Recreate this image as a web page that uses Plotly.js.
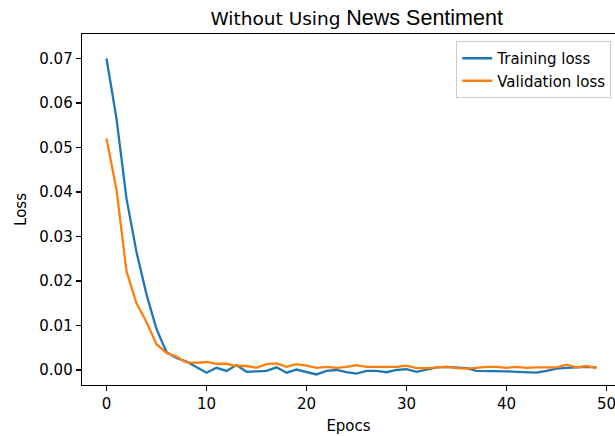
<!DOCTYPE html>
<html>
<head>
<meta charset="utf-8">
<script src="https://cdn.plot.ly/plotly-3.0.1.min.js"></script>
<style>html,body{margin:0;padding:0;background:#fff;}#chart{width:615px;height:436px;}</style>
</head>
<body>
<div id="chart"></div>
<script>
const epochs = Array.from({length: 50}, (_, i) => i);
const trainingLoss = [
  0.0700, 0.0565, 0.0385, 0.0265, 0.0170, 0.0092, 0.0040, 0.0027, 0.0019, 0.0006,
  -0.0006, 0.0005, -0.0002, 0.0011, -0.0004, -0.0003, -0.0002, 0.0006, -0.0006, 0.0001,
  -0.0004, -0.0010, -0.0002, 0.0000, -0.0005, -0.0008, -0.0002, -0.0002, -0.0005, 0.0000,
  0.0002, -0.0004, 0.0001, 0.0006, 0.0007, 0.0006, 0.0004, -0.0002, -0.0002, -0.0002,
  -0.0003, -0.0004, -0.0005, -0.0006, -0.0002, 0.0003, 0.0005, 0.0006, 0.0007, 0.0006
];
const validationLoss = [
  0.0520, 0.0405, 0.0222, 0.0150, 0.0108, 0.0058, 0.0038, 0.0030, 0.0017, 0.0016,
  0.0018, 0.0014, 0.0014, 0.0009, 0.0009, 0.0005, 0.0013, 0.0015, 0.0007, 0.0013,
  0.0010, 0.0005, 0.0007, 0.0005, 0.0007, 0.0011, 0.0007, 0.0007, 0.0007, 0.0007,
  0.0010, 0.0004, 0.0004, 0.0005, 0.0007, 0.0004, 0.0003, 0.0005, 0.0007, 0.0007,
  0.0005, 0.0007, 0.0005, 0.0006, 0.0006, 0.0006, 0.0012, 0.0006, 0.0009, 0.0004
];
const seriesNames = ['Training loss', 'Validation loss'];
const titleMain = 'Without Using';
const titleTail = 'News Sentiment';
const xTitle = 'Epocs';
const yTitle = 'Loss';

const font = 'DejaVu Sans, sans-serif';
const traces = [
  {x: epochs, y: trainingLoss, name: seriesNames[0], type: 'scatter', mode: 'lines',
   line: {color: '#1f77b4', width: 2.3}},
  {x: epochs, y: validationLoss, name: seriesNames[1], type: 'scatter', mode: 'lines',
   line: {color: '#ff7f0e', width: 2.3}}
];
const layout = {
  width: 615, height: 436,
  margin: {l: 82, r: 0, t: 34, b: 51},
  paper_bgcolor: '#ffffff', plot_bgcolor: '#ffffff',
  font: {family: font, size: 15, color: '#000000'},
  showlegend: true,
  title: {
    text: titleMain + ' <span style="font-family:Arial;font-size:21.5px">' + titleTail + '</span>',
    font: {family: font, size: 18.5, color: '#000000'},
    xref: 'container', x: 0.58, xanchor: 'center',
    yref: 'container', y: 0.958, yanchor: 'middle'
  },
  xaxis: {
    range: [-2.45, 50.85], dtick: 10, tick0: 0,
    showgrid: false, zeroline: false,
    showline: true, linecolor: '#000000', linewidth: 1.3, mirror: true,
    ticks: 'outside', ticklen: 5, tickwidth: 1.2, tickcolor: '#000000',
    ticklabeloverflow: 'allow',
    tickfont: {family: font, size: 15, color: '#000000'},
    title: {text: xTitle, font: {family: font, size: 15, color: '#000000'}, standoff: 8}
  },
  yaxis: {
    range: [-0.00337, 0.0755], dtick: 0.01, tick0: 0, tickformat: '.2f',
    showgrid: false, zeroline: false,
    showline: true, linecolor: '#000000', linewidth: 1.3, mirror: false,
    ticks: 'outside', ticklen: 5, tickwidth: 1.2, tickcolor: '#000000',
    tickfont: {family: font, size: 15, color: '#000000'},
    title: {text: yTitle, font: {family: font, size: 15, color: '#000000'}, standoff: 9}
  },
  legend: {
    x: 0.993, xanchor: 'right', y: 0.98, yanchor: 'top',
    bgcolor: 'rgba(255,255,255,0.8)', bordercolor: '#cccccc', borderwidth: 1,
    font: {family: font, size: 15, color: '#000000'}
  }
};
Plotly.newPlot('chart', traces, layout, {displayModeBar: false, staticPlot: true});
</script>
</body>
</html>
